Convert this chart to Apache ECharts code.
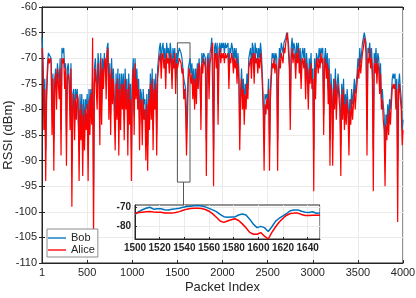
<!DOCTYPE html>
<html>
<head>
<meta charset="utf-8">
<script src="https://cdn.jsdelivr.net/npm/echarts@6/dist/echarts.min.js"></script>
<style>html,body{margin:0;padding:0;background:#fff}#c{width:416px;height:298px}</style>
</head>
<body>
<div id="c"></div>
<script>
// Main plot: one sample every 10 packets
const sampleStep = 10;
const aliceRssi = [
-68,-72,-84,-76,-94,-78,-73,-70,-71,-70,
-71,-85,-74,-92,-76,-73,-80,-72,-75,-78,
-72,-89,-70,-71,-70,-76,-72,-91,-74,-73,
-75,-84,-72,-99,-80,-77,-86,-78,-82,-77,
-78,-94,-80,-86,-79,-93,-81,-88,-80,-84,
-79,-94,-78,-85,-77,-83,-66,-106,-75,-72,
-72,-80,-71,-74,-87,-70,-83,-72,-76,-71,
-70,-78,-69,-68,-82,-73,-85,-72,-79,-74,
-74,-88,-75,-82,-74,-89,-76,-84,-75,-80,
-75,-86,-74,-80,-76,-89,-75,-83,-78,-94,
-76,-72,-85,-71,-78,-74,-80,-76,-88,-78,
-79,-87,-78,-82,-80,-90,-79,-92,-78,-84,
-75,-82,-74,-88,-76,-80,-75,-89,-74,-72,
-70,-69,-74,-70,-69,-72,-70,-76,-69,-71,
-70,-73,-69,-71,-76,-70,-72,-69,-77,-71,
-72,-71,-70,-70,-71,-73,-72,-78,-76,-80,
-89,-82,-74,-72,-72,-75,-73,-78,-74,-80,
-74,-79,-72,-76,-71,-72,-84,-71,-73,-70,
-71,-72,-93,-72,-70,-78,-71,-70,-68,-67,
-95,-70,-69,-72,-69,-83,-70,-68,-71,-69,
-70,-69,-71,-69,-70,-70,-69,-76,-70,-71,
-69,-70,-73,-70,-72,-70,-75,-71,-74,-88,
-78,-74,-80,-76,-83,-77,-80,-75,-78,-72,
-71,-70,-74,-69,-70,-75,-69,-71,-70,-73,
-70,-72,-69,-71,-75,-80,-92,-79,-81,-78,
-80,-76,-92,-78,-74,-71,-72,-70,-73,-71,
-72,-92,-74,-70,-72,-69,-70,-71,-68,-69,
-67,-66,-65,-69,-72,-84,-70,-68,-71,-69,
-70,-74,-69,-71,-68,-73,-70,-76,-71,-70,
-72,-70,-78,-71,-74,-80,-72,-75,-71,-76,
-74,-96,-72,-78,-70,-71,-73,-70,-72,-69,
-71,-70,-85,-72,-70,-74,-71,-79,-72,-91,
-75,-78,-91,-76,-80,-74,-82,-77,-75,-78,
-80,-93,-77,-82,-76,-84,-79,-83,-78,-81,
-89,-80,-83,-78,-82,-79,-76,-80,-77,-75,
-72,-74,-70,-73,-71,-69,-68,-66,-67,-69,
-89,-70,-71,-68,-72,-70,-74,-96,-71,-73,
-70,-75,-71,-72,-77,-73,-80,-78,-82,-84,
-95,-83,-86,-81,-85,-80,-83,-79,-76,-75,
-76,-75,-80,-76,-102,-77,-75,-78,-80,-87,
-84];
const bobRssi = [
-66,-70,-80,-74,-88,-76,-71,-69,-69,-69,
-70,-80,-73,-86,-74,-72,-76,-71,-73,-75,
-70,-84,-68,-69,-68,-72,-71,-85,-72,-71,
-74,-80,-71,-90,-77,-76,-82,-76,-78,-76,
-76,-88,-77,-82,-77,-88,-78,-84,-78,-80,
-77,-88,-76,-81,-76,-80,-74,-95,-72,-70,
-70,-77,-69,-71,-82,-69,-79,-70,-73,-69,
-69,-75,-68,-67,-78,-71,-81,-70,-76,-72,
-72,-83,-73,-79,-72,-84,-73,-80,-73,-77,
-73,-82,-72,-77,-74,-84,-73,-79,-75,-88,
-74,-70,-81,-70,-75,-72,-77,-74,-83,-76,
-77,-83,-76,-79,-78,-86,-77,-87,-76,-80,
-73,-79,-72,-84,-74,-77,-73,-85,-72,-70,
-68,-67,-71,-68,-67,-70,-68,-73,-67,-69,
-68,-71,-67,-69,-73,-68,-70,-68,-74,-69,
-71,-69,-68,-68,-69,-70,-70,-74,-74,-76,
-84,-78,-72,-71,-70,-73,-71,-75,-72,-77,
-72,-76,-71,-73,-70,-70,-80,-69,-71,-69,
-69,-70,-86,-70,-69,-75,-69,-68,-66,-66,
-88,-68,-67,-70,-67,-79,-68,-67,-69,-67,
-68,-67,-69,-67,-68,-68,-67,-74,-68,-69,
-67,-68,-71,-68,-70,-68,-73,-69,-72,-84,
-76,-72,-77,-74,-80,-75,-77,-73,-76,-70,
-69,-68,-72,-67,-68,-73,-67,-69,-68,-71,
-68,-70,-67,-69,-73,-78,-86,-77,-78,-77,
-78,-74,-87,-76,-72,-69,-70,-69,-71,-69,
-70,-86,-72,-68,-70,-67,-68,-69,-67,-67,
-66,-65,-65,-67,-70,-80,-68,-66,-69,-67,
-68,-72,-67,-69,-67,-71,-68,-74,-69,-68,
-70,-68,-75,-69,-72,-77,-70,-73,-69,-74,
-72,-88,-70,-75,-69,-69,-71,-68,-70,-68,
-69,-68,-81,-70,-68,-72,-69,-76,-70,-86,
-73,-76,-86,-74,-77,-72,-79,-75,-73,-76,
-78,-87,-75,-79,-74,-81,-77,-80,-76,-79,
-84,-78,-80,-76,-79,-77,-74,-77,-75,-73,
-70,-72,-68,-71,-69,-67,-66,-65,-65,-67,
-84,-68,-69,-67,-70,-68,-72,-88,-69,-71,
-68,-73,-69,-70,-75,-71,-78,-76,-79,-81,
-88,-81,-83,-79,-82,-78,-80,-77,-74,-73,
-74,-73,-77,-74,-90,-75,-73,-76,-78,-84,
-82];
// Inset: packets 1500..1650, one sample every 3 packets
const insetPackets = [1500,1503,1506,1509,1512,1515,1518,1521,1524,1527,1530,1533,1536,1539,1542,1545,1548,1551,1554,1557,1560,1563,1566,1569,1572,1575,1578,1581,1584,1587,1590,1593,1596,1599,1602,1605,1608,1611,1614,1617,1620,1623,1626,1629,1632,1635,1638,1641,1644,1647,1650];
const insetBob = [-74,-72.5,-71.5,-70.7,-70.2,-71.2,-71,-71,-71.5,-71.6,-71.2,-71,-70.7,-70.2,-69.8,-69.6,-69.4,-69.3,-69.5,-70,-70.8,-71.6,-72.5,-74,-75.2,-75.5,-75.4,-75.3,-74.3,-73.8,-74.3,-76.5,-79.2,-81,-80.3,-81,-83,-80.5,-77.5,-76,-74.7,-73.5,-72,-71.6,-71.6,-72.3,-72.8,-73,-72.6,-73.4,-73.2];
const insetAlice = [-73.5,-73,-72.8,-72.6,-72.5,-72.7,-72.8,-72.8,-73.2,-73.3,-73.3,-73,-72.5,-71.8,-71.2,-70.8,-70.7,-70.7,-70.9,-71.4,-72.3,-73.7,-75.5,-77.5,-78.2,-77.5,-76.8,-76.3,-77.2,-79,-81,-83.5,-84.5,-84.5,-83.6,-85.5,-87,-83.5,-80.5,-78,-76,-74.4,-73.5,-73.3,-73.3,-74,-74.6,-74.6,-74.4,-74.4,-74.4];
const xTicks = [0,500,1000,1500,2000,2500,3000,3500,4000];
const yTicks = [-110,-105,-100,-95,-90,-85,-80,-75,-70,-65,-60];
const insetYTicks = [-70,-80];
const seriesNames = ['Bob','Alice'];
const colors = {Bob:'#0072BD', Alice:'#FF0000'};

const packetIndex = aliceRssi.map((_, i) => i === aliceRssi.length - 1 ? 4000 : 1 + i * sampleStep);
const bobData = bobRssi.map((v, i) => [packetIndex[i], v]);
const aliceData = aliceRssi.map((v, i) => [packetIndex[i], v]);
const insetBobData = insetBob.map((v, i) => [insetPackets[i], v]);
const insetAliceData = insetAlice.map((v, i) => [insetPackets[i], v]);

const txt = '#262626';
const font = "'Liberation Sans', Arial, Helvetica, sans-serif";
const lineIcon = 'path://M0,0 L40,0 L40,3 L0,3 Z';
const chart = echarts.init(document.getElementById('c'), null, {renderer:'canvas'});
chart.setOption({
  animation: false,
  textStyle: {fontFamily: font},
  grid: [
    {left:42, top:7, right:13, bottom:35, show:true, borderColor:txt, borderWidth:1, backgroundColor:'#fff', z:0, outerBoundsMode:'none', containLabel:false},
    {left:135, top:205, width:185, height:34, show:true, borderColor:txt, borderWidth:1, backgroundColor:'#fff', z:5, outerBoundsMode:'none', containLabel:false}
  ],
  legend: {
    left:47, top:229, orient:'vertical', itemWidth:18, itemHeight:12, itemGap:0,
    padding:[3,3,1,1], borderColor:'#8c8c8c', borderWidth:1, backgroundColor:'#fff',
    textStyle:{fontSize:11, color:txt, lineHeight:12, fontFamily:font},
    data: seriesNames.map(n => ({name:n, icon:lineIcon, itemStyle:{color:colors[n]}})), z:10
  },
  xAxis: [
    {gridIndex:0, type:'value', min:xTicks[0], max:xTicks[xTicks.length-1], interval:500,
     axisLine:{lineStyle:{color:txt}}, axisTick:{inside:true, length:3, lineStyle:{color:txt}},
     axisLabel:{color:txt, fontSize:11, margin:4, formatter:v => v === 0 ? '1' : String(v)},
     splitLine:{show:true, lineStyle:{color:'#ebebeb'}},
     name:'Packet Index', nameLocation:'middle', nameGap:18, nameMoveOverlap:false, nameTextStyle:{fontSize:13, color:txt}},
    {gridIndex:0, type:'value', position:'top', min:xTicks[0], max:xTicks[xTicks.length-1], interval:500,
     axisLine:{lineStyle:{color:txt}}, axisTick:{inside:true, length:3, lineStyle:{color:txt}},
     axisLabel:{show:false}, splitLine:{show:false}},
    {gridIndex:1, type:'value', min:1500, max:1650, interval:20, z:6,
     axisLine:{lineStyle:{color:txt}}, axisTick:{inside:true, length:2, lineStyle:{color:txt}},
     axisLabel:{color:txt, fontSize:10, fontWeight:'bold', margin:4, showMaxLabel:false, formatter:v => String(v)},
     splitLine:{show:true, lineStyle:{color:'#ebebeb'}}}
  ],
  yAxis: [
    {gridIndex:0, type:'value', min:yTicks[0], max:yTicks[yTicks.length-1], interval:5,
     axisLine:{show:true, lineStyle:{color:txt}}, axisTick:{show:true, inside:true, length:3, lineStyle:{color:txt}},
     axisLabel:{color:txt, fontSize:11, margin:5},
     splitLine:{show:true, lineStyle:{color:'#ebebeb'}},
     name:'RSSI (dBm)', nameLocation:'middle', nameGap:27, nameMoveOverlap:false, nameTextStyle:{fontSize:13, color:txt}},
    {gridIndex:0, type:'value', position:'right', min:yTicks[0], max:yTicks[yTicks.length-1], interval:5,
     axisLine:{show:true, lineStyle:{color:txt}}, axisTick:{show:true, inside:true, length:3, lineStyle:{color:txt}},
     axisLabel:{show:false}, splitLine:{show:false}},
    {gridIndex:1, type:'value', min:-87, max:-69, z:6,
     axisLine:{show:true, lineStyle:{color:txt}},
     axisTick:{show:true, inside:true, length:2, customValues:insetYTicks, lineStyle:{color:txt}},
     axisLabel:{color:txt, fontSize:10, fontWeight:'bold', margin:4, customValues:insetYTicks},
     splitLine:{show:false}}
  ],
  series: [
    {name:'Bob', type:'line', xAxisIndex:0, yAxisIndex:0, data:bobData, symbol:'none', z:2,
     lineStyle:{width:1.2, color:colors.Bob}, itemStyle:{color:colors.Bob}},
    {name:'Alice', type:'line', xAxisIndex:0, yAxisIndex:0, data:aliceData, symbol:'none', z:3,
     lineStyle:{width:1.2, color:colors.Alice}, itemStyle:{color:colors.Alice},
     markArea:{silent:true, itemStyle:{color:'rgba(0,0,0,0)', borderColor:'#555', borderWidth:1},
       data:[[{coord:[1500,-67]},{coord:[1640,-94.2]}]]},
     markLine:{silent:true, symbol:['none','none'], label:{show:false},
       lineStyle:{color:'#555', width:1, type:'solid'},
       data:[[{coord:[1565,-94.2]},{coord:[1565,-98.7]}]]}},
    {name:'Bob', type:'line', xAxisIndex:2, yAxisIndex:2, data:insetBobData, symbol:'none', z:7,
     lineStyle:{width:1.5, color:colors.Bob}, itemStyle:{color:colors.Bob},
     markLine:{silent:true, symbol:['none','none'], label:{show:false},
       lineStyle:{color:'#ebebeb', width:1, type:'solid'},
       data: insetYTicks.map(v => ({yAxis:v}))}},
    {name:'Alice', type:'line', xAxisIndex:2, yAxisIndex:2, data:insetAliceData, symbol:'none', z:8,
     lineStyle:{width:1.5, color:colors.Alice}, itemStyle:{color:colors.Alice}}
  ]
});
</script>
</body>
</html>
